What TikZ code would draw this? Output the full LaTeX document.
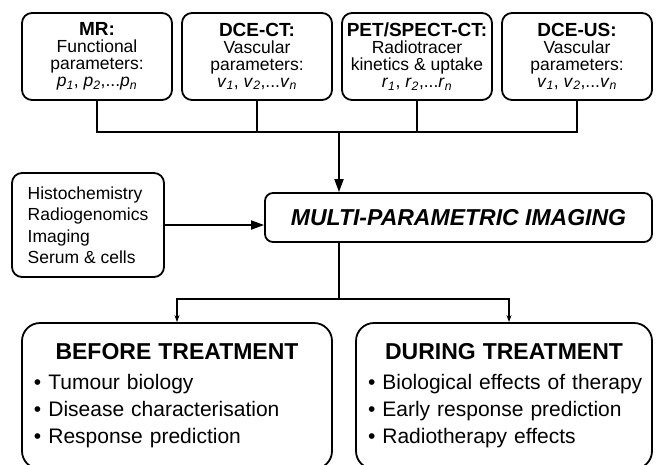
\documentclass[tikz,border=0pt]{standalone}
\usepackage{fontspec}
\setmainfont{Liberation Sans}
\usepackage{tikz}
\usetikzlibrary{positioning, arrows.meta}
\newcommand{\modparam}[2]{\textit{#1}\textsubscript{\textit{#2}}}
\newcommand{\headfont}{\fontsize{19}{17}\selectfont\bfseries}
\newcommand{\phasefont}{\fontsize{23}{27}\selectfont\bfseries}
\tikzstyle{modality} = [rectangle, rounded corners=10pt, minimum width=150pt, minimum height=87pt, inner sep=0pt, text centered, align=center, draw=black, line width=1.8pt, font=\fontsize{17.5}{17}\selectfont]
\tikzstyle{source} = [rectangle, rounded corners=10pt, minimum width=152pt, minimum height=104pt, align=left, draw=black, line width=1.8pt, font=\fontsize{17.5}{21.5}\selectfont]
\tikzstyle{central} = [rectangle, rounded corners=8pt, minimum width=387pt, minimum height=49pt, text centered, draw=black, line width=1.8pt, font=\fontsize{23}{23}\selectfont\bfseries\itshape]
\tikzstyle{phase} = [rectangle, rounded corners=18pt, minimum height=146pt, inner xsep=12pt, align=left, draw=black, line width=1.8pt, font=\fontsize{21}{27}\selectfont]
\tikzstyle{line} = [line width=1.8pt]
\tikzstyle{arrow} = [line width=1.8pt, -{Triangle[length=13pt,width=9pt]}]
\tikzstyle{smallarrow} = [line width=1.8pt, -{Stealth[length=7pt,width=5pt]}]

\begin{document}
\begin{tikzpicture}[x=1pt, y=-1pt, node distance=160pt]

        \useasboundingbox (0,0) rectangle (656,464);

        % Imaging modalities
        \node (mr) [modality] at (97,56.5) {{\headfont MR:}\\ Functional\\ parameters:\\ \modparam{p}{1}, \modparam{p}{2},...\modparam{p}{n}};
        \node (dceCT) [modality, right of=mr] {{\headfont DCE-CT:}\\ Vascular\\ parameters:\\ \modparam{v}{1}, \modparam{v}{2},...\modparam{v}{n}};
        \node (petCT) [modality, right of=dceCT] {{\headfont PET/SPECT-CT:}\\ Radiotracer\\ kinetics \& uptake\\ \modparam{r}{1}, \modparam{r}{2},...\modparam{r}{n}};
        \node (dceUS) [modality, right of=petCT] {{\headfont DCE-US:}\\ Vascular\\ parameters:\\ \modparam{v}{1}, \modparam{v}{2},...\modparam{v}{n}};

        % Other data and multi-parametric imaging
        \node (otherData) [source] at (88,225) {Histochemistry\\ Radiogenomics\\ Imaging\\ Serum \& cells};
        \node (mpi) [central] at (458.5,217.5) {MULTI-PARAMETRIC IMAGING};

        % Treatment phases
        \node (before) [phase, text width=286pt] at (177,396) {\makebox[\hsize]{\phasefont BEFORE TREATMENT}\\[3pt] \mbox{• Tumour biology}\\ \mbox{• Disease characterisation}\\ \mbox{• Response prediction}};
        \node (during) [phase, text width=272pt] at (504,396) {\makebox[\hsize]{\phasefont DURING TREATMENT}\\[3pt] \mbox{• Biological effects of therapy}\\ \mbox{• Early response prediction}\\ \mbox{• Radiotherapy effects}};

        \coordinate (topBus) at (339,132);
        \coordinate (splitBus) at (339,299);

        % Connectors
        \draw [line] (mr.south) |- (topBus);
        \draw [line] (dceCT.south) -- (dceCT.south |- topBus);
        \draw [line] (petCT.south) -- (petCT.south |- topBus);
        \draw [line] (dceUS.south) |- (topBus);
        \draw [arrow] (topBus) -- (topBus |- mpi.north);
        \draw [arrow] (otherData.east) -- (otherData.east -| mpi.west);
        \draw [line] (mpi.south -| splitBus) -- (splitBus);
        \draw [smallarrow] (splitBus) -| (before.north);
        \draw [smallarrow] (splitBus) -| ([xshift=5pt]during.north);

    \end{tikzpicture}
\end{document}
